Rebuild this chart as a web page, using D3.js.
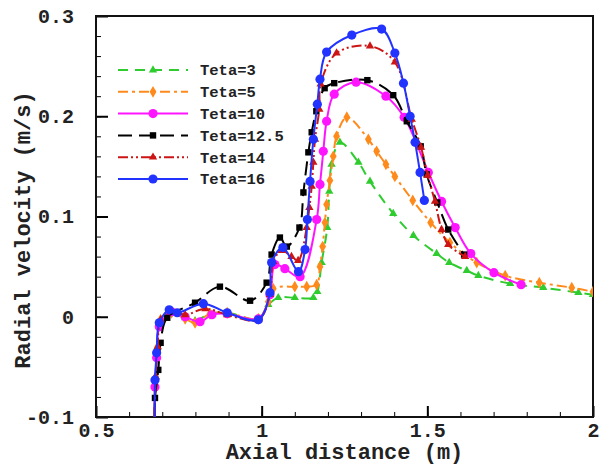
<!DOCTYPE html>
<html>
<head>
<meta charset="utf-8">
<script src="https://cdn.jsdelivr.net/npm/d3@7"></script>
<style>
  html, body { margin: 0; padding: 0; background: #fff; }
  svg { display: block; }
</style>
</head>
<body>
<svg id="chart" width="608" height="466"></svg>
<script>
// ---------------- DATA ----------------
const seriesNames = ["Teta=3", "Teta=5", "Teta=10", "Teta=12.5", "Teta=14", "Teta=16"];

const xTeta3 = [0.677,0.680,0.686,0.695,0.728,0.769,0.799,0.844,0.896,0.990,1.020,1.050,1.100,1.156,1.168,1.181,1.198,1.204,1.211,1.236,1.292,1.327,1.397,1.458,1.528,1.566,1.619,1.654,1.750,1.850,1.956,2.000];
const yTeta3 = [-0.100,-0.060,-0.030,-0.003,0.004,-0.001,-0.004,0.003,0.004,-0.002,0.012,0.019,0.019,0.019,0.025,0.054,0.089,0.125,0.152,0.174,0.154,0.135,0.103,0.081,0.063,0.054,0.046,0.041,0.033,0.029,0.024,0.022];

const xTeta5 = [0.677,0.680,0.686,0.695,0.728,0.769,0.799,0.844,0.896,0.990,1.020,1.035,1.100,1.136,1.166,1.176,1.184,1.191,1.196,1.206,1.216,1.226,1.257,1.322,1.347,1.375,1.402,1.456,1.510,1.568,1.649,1.735,1.838,1.936,2.000];
const yTeta5 = [-0.100,-0.060,-0.030,-0.003,0.004,-0.002,-0.006,0.003,0.004,-0.002,0.015,0.028,0.030,0.030,0.032,0.050,0.070,0.094,0.112,0.136,0.160,0.180,0.199,0.177,0.165,0.152,0.140,0.116,0.094,0.074,0.054,0.041,0.034,0.029,0.025];

const xTeta10 = [0.677,0.678,0.683,0.691,0.728,0.769,0.814,0.850,0.896,0.990,1.025,1.040,1.070,1.116,1.166,1.176,1.186,1.196,1.219,1.285,1.375,1.430,1.503,1.543,1.584,1.631,1.701,1.783];
const yTeta10 = [-0.100,-0.070,-0.041,-0.010,0.005,0.000,-0.005,0.002,0.003,-0.002,0.022,0.052,0.048,0.040,0.097,0.132,0.165,0.195,0.222,0.234,0.220,0.199,0.144,0.115,0.089,0.063,0.044,0.032];

const xTeta125 = [0.677,0.678,0.688,0.695,0.715,0.799,0.874,0.965,1.015,1.030,1.055,1.076,1.114,1.126,1.141,1.151,1.165,1.190,1.219,1.319,1.397,1.438,1.480,1.498,1.530,1.563,1.611];
const yTeta125 = [-0.100,-0.081,-0.053,-0.026,-0.001,0.014,0.030,0.016,0.034,0.062,0.079,0.070,0.089,0.124,0.164,0.184,0.205,0.228,0.233,0.236,0.221,0.195,0.170,0.142,0.114,0.087,0.062];

const xTeta14 = [0.677,0.680,0.686,0.695,0.721,0.769,0.830,0.896,0.990,1.025,1.035,1.060,1.090,1.110,1.136,1.144,1.151,1.156,1.161,1.174,1.178,1.226,1.327,1.402,1.453,1.481,1.501,1.523,1.543,1.563,1.614];
const yTeta14 = [-0.100,-0.060,-0.030,-0.003,0.006,0.002,0.008,0.002,-0.003,0.022,0.055,0.066,0.060,0.056,0.089,0.109,0.130,0.154,0.177,0.207,0.232,0.263,0.270,0.254,0.197,0.169,0.141,0.115,0.087,0.072,0.060];

const xTeta16 = [0.677,0.678,0.683,0.691,0.721,0.745,0.824,0.896,0.990,1.025,1.030,1.064,1.111,1.131,1.138,1.146,1.156,1.168,1.176,1.196,1.272,1.362,1.402,1.428,1.448,1.463,1.478,1.491];
const yTeta16 = [-0.100,-0.063,-0.036,-0.006,0.007,0.004,0.013,0.004,-0.003,0.024,0.054,0.069,0.045,0.067,0.097,0.135,0.177,0.212,0.237,0.264,0.281,0.287,0.263,0.233,0.200,0.174,0.144,0.116];

const xTicks = [0.5, 1, 1.5, 2];
const xTickLabels = ["0.5", "1", "1.5", "2"];
const yTicks = [-0.1, 0, 0.1, 0.2, 0.3];
const yTickLabels = ["-0.1", "0", "0.1", "0.2", "0.3"];
const xTitle = "Axial distance (m)";
const yTitle = "Radial velocity (m/s)";

// ---------------- STYLE ----------------
const styles = [
  { color: "#2fcc2f", dash: "10,7",            marker: "triangle" },
  { color: "#ff8a1c", dash: "10,4,3,4",        marker: "diamond" },
  { color: "#ff14ff", dash: null,              marker: "circle" },
  { color: "#000000", dash: "14,7",            marker: "square" },
  { color: "#cc1515", dash: "10,3,2,3,2,3",    marker: "triangle" },
  { color: "#2233ff", dash: null,              marker: "circle" }
];
const allX = [xTeta3, xTeta5, xTeta10, xTeta125, xTeta14, xTeta16];
const allY = [yTeta3, yTeta5, yTeta10, yTeta125, yTeta14, yTeta16];

const margin = { left: 96, right: 15, top: 16, bottom: 49 };
const W = 608, H = 466;
const svg = d3.select("#chart");
const font = "'Liberation Mono', 'DejaVu Sans Mono', monospace";

const x = d3.scaleLinear().domain([0.5, 2]).range([margin.left, W - margin.right]);
const y = d3.scaleLinear().domain([-0.1, 0.3]).range([H - margin.bottom, margin.top]);

svg.append("defs").append("clipPath").attr("id", "clip")
  .append("rect").attr("x", x(0.5)).attr("y", y(0.3))
  .attr("width", x(2) - x(0.5)).attr("height", y(-0.1) - y(0.3));

// axes with inward ticks
const xMinor = d3.range(0.5, 2.0001, 0.1);
const yMinor = d3.range(-0.1, 0.3001, 0.02);

const gx = svg.append("g").attr("transform", `translate(0,${y(-0.1)})`);
gx.call(d3.axisBottom(x).tickValues(xMinor).tickSize(-5).tickFormat(""));
gx.select(".domain").remove();
gx.selectAll("line").attr("stroke", "#000").attr("stroke-width", 1);
const gx2 = svg.append("g").attr("transform", `translate(0,${y(-0.1)})`);
gx2.call(d3.axisBottom(x).tickValues(xTicks).tickSize(-11)
  .tickFormat((d, i) => xTickLabels[i]));
gx2.select(".domain").remove();
gx2.selectAll("line").attr("stroke", "#000").attr("stroke-width", 2);
gx2.selectAll("text").attr("font-family", font).attr("font-size", 20)
  .attr("font-weight", "bold").attr("fill", "#222").attr("y", 20).attr("dy", 0);

const gy = svg.append("g").attr("transform", `translate(${x(0.5)},0)`);
gy.call(d3.axisLeft(y).tickValues(yMinor).tickSize(-5).tickFormat(""));
gy.select(".domain").remove();
gy.selectAll("line").attr("stroke", "#000").attr("stroke-width", 1);
const gy2 = svg.append("g").attr("transform", `translate(${x(0.5)},0)`);
gy2.call(d3.axisLeft(y).tickValues(yTicks).tickSize(-12).tickPadding(22)
  .tickFormat((d, i) => yTickLabels[i]));
gy2.select(".domain").remove();
gy2.selectAll("line").attr("stroke", "#000").attr("stroke-width", 2);
gy2.selectAll("text").attr("font-family", font).attr("font-size", 20)
  .attr("font-weight", "bold").attr("fill", "#222");

// frame
svg.append("rect").attr("x", x(0.5)).attr("y", y(0.3))
  .attr("width", x(2) - x(0.5)).attr("height", y(-0.1) - y(0.3))
  .attr("fill", "none").attr("stroke", "#111").attr("stroke-width", 2);

// markers
function drawMarker(g, type, cx, cy, color) {
  if (type === "circle") {
    g.append("circle").attr("cx", cx).attr("cy", cy).attr("r", 4.6).attr("fill", color);
  } else if (type === "square") {
    g.append("rect").attr("x", cx - 3.2).attr("y", cy - 3.2).attr("width", 6.4).attr("height", 6.4).attr("fill", color);
  } else if (type === "triangle") {
    g.append("path").attr("d", d3.symbol(d3.symbolTriangle, 30)()).attr("transform", `translate(${cx},${cy})`).attr("fill", color);
  } else if (type === "diamond") {
    g.append("path").attr("d", d3.symbol(d3.symbolDiamond, 40)()).attr("transform", `translate(${cx},${cy})`).attr("fill", color);
  }
}

const line = d3.line().x(d => x(d[0])).y(d => y(d[1])).curve(d3.curveCatmullRom.alpha(0.5));
const plot = svg.append("g").attr("clip-path", "url(#clip)");

allX.forEach((xs, i) => {
  const pts = xs.map((v, j) => [v, allY[i][j]]);
  const st = styles[i];
  plot.append("path").datum(pts).attr("d", line)
    .attr("fill", "none").attr("stroke", st.color).attr("stroke-width", 2)
    .attr("stroke-dasharray", st.dash);
  const mg = plot.append("g");
  pts.forEach(p => { if (p[1] > -0.099) drawMarker(mg, st.marker, x(p[0]), y(p[1]), st.color); });
});

// legend
const legY0 = 70, legStep = 21.8;
seriesNames.forEach((name, i) => {
  const st = styles[i];
  const ly = legY0 + i * legStep;
  svg.append("line").attr("x1", 118).attr("x2", 188).attr("y1", ly).attr("y2", ly)
    .attr("stroke", st.color).attr("stroke-width", 2).attr("stroke-dasharray", st.dash);
  drawMarker(svg.append("g"), st.marker, 153, ly, st.color);
  svg.append("text").attr("x", 200).attr("y", ly).attr("dy", "0.35em")
    .attr("font-family", font).attr("font-size", 15.5).attr("font-weight", "bold")
    .attr("fill", "#222").text(name);
});

// titles
svg.append("text").attr("x", (x(0.5) + x(2)) / 2).attr("y", 459).attr("text-anchor", "middle")
  .attr("font-family", font).attr("font-size", 22).attr("font-weight", "bold").attr("fill", "#222").text(xTitle);
svg.append("text").attr("transform", `translate(30,230) rotate(-90)`).attr("text-anchor", "middle")
  .attr("font-family", font).attr("font-size", 22).attr("font-weight", "bold").attr("fill", "#222").text(yTitle);
</script>
</body>
</html>
